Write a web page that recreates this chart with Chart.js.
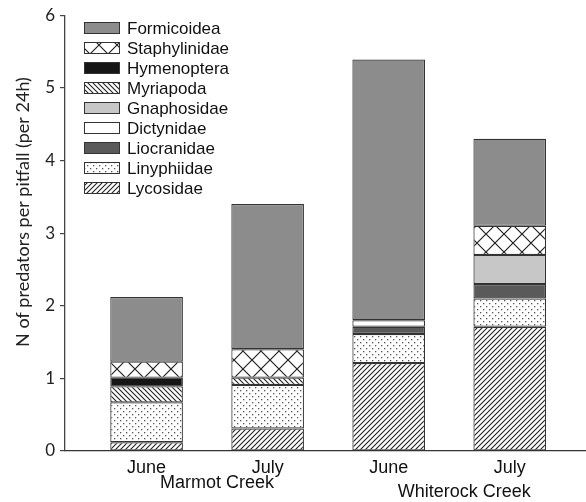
<!DOCTYPE html>
<html>
<head>
<meta charset="utf-8">
<script src="https://cdn.jsdelivr.net/npm/chart.js@4.4.1/dist/chart.umd.min.js"></script>
<style>
  html, body { margin: 0; padding: 0; background: #fff; }
  #wrap { width: 586px; height: 502px; position: relative; }
</style>
</head>
<body>
<div id="wrap"><canvas id="c" width="586" height="502"></canvas></div>
<script>
// ---- data ----
const months = ['June', 'July', 'June', 'July'];
const positions = [1, 2, 3, 4];
const sites = ['Marmot Creek', 'Whiterock Creek'];
const siteBars = [[1, 2], [3, 4]];
const yTicks = [0, 1, 2, 3, 4, 5, 6];
const yTitle = 'N of predators per pitfall (per 24h)';

const lycosidae     = [0.12, 0.31, 1.21, 1.71];
const linyphiidae   = [0.55, 0.60, 0.40, 0.39];
const liocranidae   = [null, null, 0.10, 0.20];
const dictynidae    = [null, null, 0.09, null];
const gnaphosidae   = [null, null, null, 0.40];
const myriapoda     = [0.22, 0.10, null, null];
const hymenoptera   = [0.12, null, null, null];
const staphylinidae = [0.22, 0.39, null, 0.40];
const formicoidea   = [0.89, 2.00, 3.59, 1.20];

// ---- patterns ----
function tile(w, h, draw) {
  const c = document.createElement('canvas');
  c.width = w; c.height = h;
  const g = c.getContext('2d');
  g.fillStyle = '#fff'; g.fillRect(0, 0, w, h);
  draw(g, w, h);
  return document.getElementById('c').getContext('2d').createPattern(c, 'repeat');
}
const fwdHatch = tile(5, 5, (g, w, h) => {
  g.strokeStyle = '#222'; g.lineWidth = 1.1;
  g.beginPath();
  g.moveTo(0, h); g.lineTo(w, 0);
  g.moveTo(-1, 1); g.lineTo(1, -1);
  g.moveTo(w - 1, h + 1); g.lineTo(w + 1, h - 1);
  g.stroke();
});
const backHatch = tile(5, 5, (g, w, h) => {
  g.strokeStyle = '#222'; g.lineWidth = 1.1;
  g.beginPath();
  g.moveTo(0, 0); g.lineTo(w, h);
  g.moveTo(w - 1, -1); g.lineTo(w + 1, 1);
  g.moveTo(-1, h - 1); g.lineTo(1, h + 1);
  g.stroke();
});
const dots = tile(6, 6, (g) => {
  g.fillStyle = '#555';
  g.fillRect(0, 0, 1.3, 1.3);
  g.fillRect(3, 3, 1.3, 1.3);
});
const cross = tile(18, 18, (g, w, h) => {
  g.strokeStyle = '#222'; g.lineWidth = 1.2;
  g.beginPath();
  g.moveTo(0, 0); g.lineTo(w, h);
  g.moveTo(w, 0); g.lineTo(0, h);
  g.stroke();
});

const series = [
  ['Lycosidae', lycosidae, fwdHatch],
  ['Linyphiidae', linyphiidae, dots],
  ['Liocranidae', liocranidae, '#5a5a5a'],
  ['Dictynidae', dictynidae, '#ffffff'],
  ['Gnaphosidae', gnaphosidae, '#c6c7c6'],
  ['Myriapoda', myriapoda, backHatch],
  ['Hymenoptera', hymenoptera, '#161616'],
  ['Staphylinidae', staphylinidae, cross],
  ['Formicoidea', formicoidea, '#8c8c8c']
];

const datasets = series.map(([label, vals, fill]) => ({
  label,
  data: positions.map((p, i) => ({ x: p, y: vals[i] })),
  backgroundColor: fill,
  borderColor: '#333',
  borderWidth: 1.2,
  borderSkipped: false,
  barPercentage: 0.6,
  categoryPercentage: 1.0,
  stack: 's'
}));

const legendPlugin = {
  id: 'customLegend',
  afterDraw(chart) {
    const ctx = chart.ctx;
    const items = chart.data.datasets.slice().reverse();
    ctx.save();
    ctx.font = '17px "Liberation Sans", Arial, sans-serif';
    ctx.textBaseline = 'middle';
    items.forEach((ds, i) => {
      const y = 28 + i * 20;
      ctx.fillStyle = ds.backgroundColor;
      ctx.fillRect(84, y - 6, 36, 12);
      ctx.strokeStyle = '#333';
      ctx.lineWidth = 1;
      ctx.strokeRect(84.5, y - 5.5, 35, 11);
      ctx.fillStyle = '#111';
      ctx.fillText(ds.label, 127, y + 1);
    });
    ctx.restore();
  }
};

const textPlugin = {
  id: 'extraText',
  afterDraw(chart) {
    const ctx = chart.ctx;
    const xs = chart.scales.x;
    ctx.save();
    ctx.font = '18px "Liberation Sans", Arial, sans-serif';
    ctx.fillStyle = '#111';
    ctx.textAlign = 'center';
    ctx.textBaseline = 'middle';
    const shifts = [10, 15];
    const ys = [483, 492];
    sites.forEach((s, i) => {
      const px = siteBars[i].map(v => xs.getPixelForValue(v));
      const mid = (px[0] + px[1]) / 2 + shifts[i];
      ctx.fillText(s, mid, ys[i]);
    });
    // y axis title
    ctx.translate(23, 212);
    ctx.rotate(-Math.PI / 2);
    ctx.font = '18px Lato, "Open Sans", sans-serif';
    ctx.fillStyle = '#222';
    ctx.fillText(yTitle, 0, 0);
    ctx.restore();
  }
};

new Chart(document.getElementById('c'), {
  type: 'bar',
  data: { datasets },
  plugins: [legendPlugin, textPlugin],
  options: {
    responsive: false,
    animation: false,
    maintainAspectRatio: false,
    layout: { padding: { top: 15, right: 0, left: 0, bottom: 0 } },
    plugins: { legend: { display: false }, tooltip: { enabled: false } },
    scales: {
      x: {
        type: 'linear',
        stacked: true,
        min: 0.326,
        max: 4.63,
        offset: false,
        afterBuildTicks(scale) { scale.ticks = positions.map(v => ({ value: v })); },
        afterFit(scale) { scale.height = 51; },
        grid: { display: false, drawTicks: false },
        border: { display: true, color: '#333', width: 1.3 },
        ticks: {
          autoSkip: false,
          maxRotation: 0,
          padding: 6,
          color: '#111',
          font: { family: '"Liberation Sans", Arial, sans-serif', size: 18 },
          callback: (v) => months[positions.indexOf(v)] || ''
        }
      },
      y: {
        stacked: true,
        min: 0,
        max: 6,
        afterBuildTicks(scale) { scale.ticks = yTicks.map(v => ({ value: v })); },
        afterFit(scale) { scale.width = 65; },
        grid: { drawOnChartArea: false, drawTicks: true, tickLength: 5, color: '#444', lineWidth: 1.2 },
        border: { display: true, color: '#444', width: 1.3 },
        ticks: {
          padding: 5,
          color: '#222',
          font: { family: 'Lato, "Open Sans", sans-serif', size: 17 }
        },
        title: { display: false }
      }
    }
  }
});
</script>
</body>
</html>
